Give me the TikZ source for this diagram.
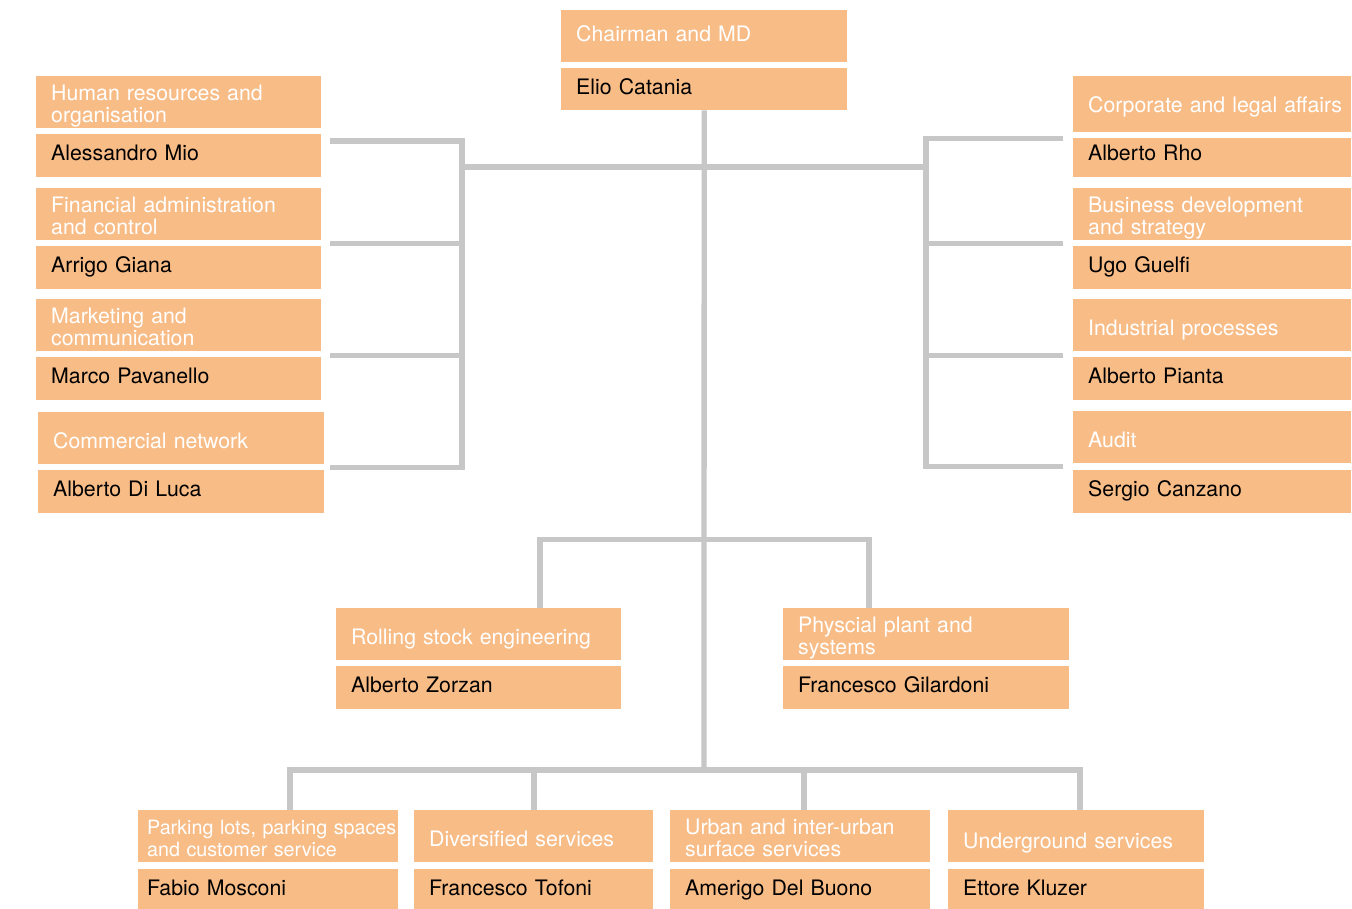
\documentclass[tikz,border=0pt]{standalone}
\usepackage{xcolor}
\usepackage{fontspec}
\setmainfont{TeX Gyre Heros}
\usepackage{tikz}

\definecolor{boxfill}{HTML}{F8BC87}
\definecolor{linegray}{HTML}{C7C7C7}

\begin{document}
\begin{tikzpicture}[x=1pt,y=-1pt,
				unit/.style={fill=boxfill,text=white,anchor=north west,inner xsep=15pt,inner ysep=0pt,
					align=left,minimum width=#1pt,text width=#1pt-30pt,text height=36pt,text depth=16pt,
					font=\fontsize{21.3pt}{22pt}\selectfont},
				twoline/.style={text height=24pt,text depth=28pt},
				head/.style={unit=#1,text=black,text height=26pt,text depth=17pt},
				link/.style={draw=linegray,line width=5.3pt}]
				
				\useasboundingbox (0,0) rectangle (1352,909);
				
				% Top
				\node[unit=286,text height=31pt,text depth=21pt] (chair) at (561,10) {Chairman and MD};
				\node[head=286,text depth=16pt] (elio) at (561,68) {Elio Catania};
				
				% Left staff
				\node[unit=285,twoline] (hr) at (36,76) {Human resources and\\organisation};
				\node[head=285] (hrh) at (36,134) {Alessandro Mio};
				\node[unit=285,twoline] (fin) at (36,188) {Financial administration\\and control};
				\node[head=285] (finh) at (36,246) {Arrigo Giana};
				\node[unit=285,twoline] (mkt) at (36,299) {Marketing and\\communication};
				\node[head=285] (mkth) at (36,357) {Marco Pavanello};
				\node[unit=286] (com) at (38,412) {Commercial network};
				\node[head=286] (comh) at (38,470) {Alberto Di Luca};
				
				% Right staff
				\node[unit=278,text depth=20pt] (cla) at (1073,76) {\mbox{Corporate and legal affairs}};
				\node[head=278,text height=22pt] (clah) at (1073,138) {Alberto Rho};
				\node[unit=278,twoline] (bds) at (1073,188) {Business development\\and strategy};
				\node[head=278] (bdsh) at (1073,246) {Ugo Guelfi};
				\node[unit=278] (ind) at (1073,299) {Industrial processes};
				\node[head=278] (indh) at (1073,357) {Alberto Pianta};
				\node[unit=278] (aud) at (1073,411) {Audit};
				\node[head=278] (audh) at (1073,470) {Sergio Canzano};
				
				% Engineering
				\node[unit=285] (rs) at (336,608) {Rolling stock engineering};
				\node[head=285] (rsh) at (336,666) {Alberto Zorzan};
				\node[unit=286,twoline] (pp) at (783,608) {Physcial plant and\\systems};
				\node[head=286] (pph) at (783,666) {Francesco Gilardoni};
				
				% Services
				\node[unit=260,twoline,inner xsep=9pt,text width=242pt,font=\fontsize{19.7pt}{22pt}\selectfont] (park) at (138,810) {\mbox{Parking lots, parking spaces}\\and customer service};
				\node[head=260,inner xsep=9pt,text width=242pt,text depth=14pt] (parkh) at (138,869) {Fabio Mosconi};
				\node[unit=239] (div) at (414,810) {Diversified services};
				\node[head=239,text depth=14pt] (divh) at (414,869) {Francesco Tofoni};
				\node[unit=260,twoline] (urb) at (670,810) {Urban and inter-urban\\surface services};
				\node[head=260,text depth=14pt] (urbh) at (670,869) {Amerigo Del Buono};
				\node[unit=256,text height=38pt,text depth=14pt] (und) at (948,810) {Underground services};
				\node[head=256,text depth=14pt] (undh) at (948,869) {Ettore Kluzer};
				
				% Bus points
				\coordinate (lb) at (462,167);
				\coordinate (rb) at (926,167);
				\coordinate (ml) at (540,539.5);
				\coordinate (mr) at (869,539.5);
				\coordinate (bc) at (704,770);
				\foreach \x [count=\i] in {290,534,804,1080}
				\coordinate (b\i) at (\x,770);
				\foreach \y [count=\i] in {141,243.3,355.7,467.7}
				\coordinate (l\i) at (330,\y);
				\foreach \y [count=\i] in {138.3,243.3,355.7,466.7}
				\coordinate (r\i) at (1063,\y);
				
				% Connections
				\draw[link] (elio.south) -- (bc);
				\draw[link] (lb) -- (rb);
				\draw[link] (l1) -- (l1 -| lb) -- (l4 -| lb) -- (l4);
				\foreach \i in {2,3}
				\draw[link] (l\i) -- (l\i -| lb);
				\draw[link] (r1) -- (r1 -| rb) -- (r4 -| rb) -- (r4);
				\foreach \i in {2,3}
				\draw[link] (r\i) -- (r\i -| rb);
				\draw[link] (rs.north -| ml) -- (ml) -- (mr) -- (pp.north -| mr);
				\draw[link] (park.north -| b1) -- (b1) -- (b4) -- (und.north -| b4);
				\draw[link] (b2) -- (div.north -| b2);
				\draw[link] (b3) -- (urb.north -| b3);
			\end{tikzpicture}
\end{document}
